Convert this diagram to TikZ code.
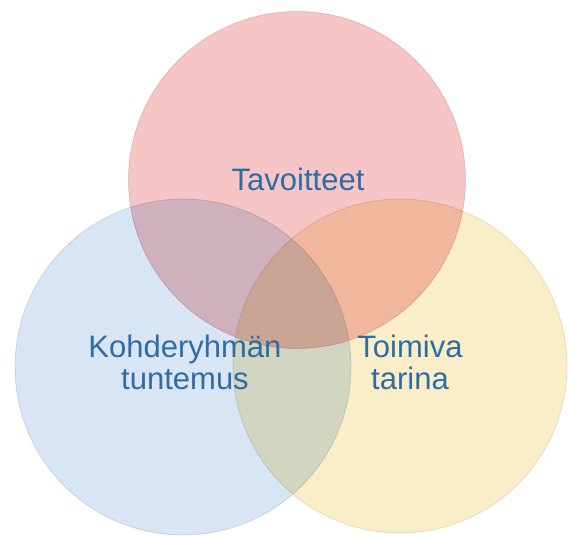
\documentclass[tikz,border=0pt]{standalone}
\usepackage{fontspec}
\setmainfont{Liberation Sans}
\usetikzlibrary{positioning}
\definecolor{goalred}{RGB}{246,197,198}
\definecolor{groupblue}{RGB}{215,229,244}
\definecolor{storyyellow}{RGB}{250,238,201}
\definecolor{labelblue}{RGB}{46,108,166}

\begin{document}
\begin{tikzpicture}[x=1pt,y=-1pt]
    \useasboundingbox (0,0) rectangle (568,537);
    \begin{scope}[blend group=multiply]
        \node[circle,draw=groupblue!80!black!45,fill=groupblue,line width=0.7pt,minimum size=336pt,inner sep=0pt] (group) at (183,367) {};
        \node[circle,draw=storyyellow!80!black!45,fill=storyyellow,line width=0.7pt,minimum size=334pt,inner sep=0pt] (story) at (400,366) {};
        \node[circle,draw=goalred!80!black!45,fill=goalred,line width=0.7pt,minimum size=337pt,inner sep=0pt] (goals) at (297,180) {};
    \end{scope}
    \node[text=labelblue,font=\fontsize{31}{32}\selectfont,anchor=base] (goalstext) at (298,191) {Tavoitteet};
    \node[text=labelblue,font=\fontsize{31}{32}\selectfont,align=center] (grouptext) at (185,362) {Kohderyhmän\\tuntemus};
    \node[text=labelblue,font=\fontsize{31}{32}\selectfont,align=center] (storytext) at (410,362) {Toimiva\\tarina};
\end{tikzpicture}
\end{document}
